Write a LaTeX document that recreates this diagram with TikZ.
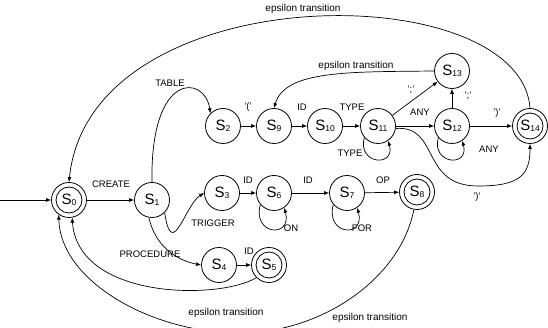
\documentclass[tikz,border=0pt]{standalone}
\usepackage{fontspec}
\setmainfont{Liberation Sans}
\usetikzlibrary{arrows.meta}
\newcommand{\sn}[1]{S{\fontsize{8.5}{8.5}\selectfont\raisebox{-1.5pt}{#1}}}
\begin{document}
\begin{tikzpicture}[x=1pt,y=-1pt,
  st/.style={circle,draw,line width=0.8pt,minimum size=35pt,inner sep=0pt,font=\fontsize{15}{15}\selectfont},
  acc/.style={st,path picture={\draw[line width=0.8pt] (path picture bounding box.center) circle (13pt);}},
  arr/.style={-{Latex[length=5pt,width=4pt]},line width=0.7pt},
  lbl/.style={font=\fontsize{9.5}{9.5}\selectfont,inner sep=1pt},
  eps/.style={font=\fontsize{10}{10}\selectfont,inner sep=1pt}]
\useasboundingbox (0,0) rectangle (548,328);
% states
\node[acc] (S0) at (69,200) {\sn{0}};
\node[st] (S1) at (152,200) {\sn{1}};
\node[st] (S2) at (223,126) {\sn{2}};
\node[st] (S9) at (274,126) {\sn{9}};
\node[st] (S10) at (325,126) {\sn{10}};
\node[st] (S11) at (378,126) {\sn{11}};
\node[st] (S12) at (452,126) {\sn{12}};
\node[st] (S13) at (452,71) {\sn{13}};
\node[acc] (S14) at (530,126) {\sn{14}};
\node[st] (S3) at (222,193) {\sn{3}};
\node[st] (S6) at (274,193) {\sn{6}};
\node[st] (S7) at (347,193) {\sn{7}};
\node[acc] (S8) at (417,192) {\sn{8}};
\node[st] (S4) at (219,265) {\sn{4}};
\node[acc] (S5) at (269,265) {\sn{5}};
% start
\coordinate (start) at (0,200);
\draw[arr] (start) -- (S0);
% straight edges
\draw[arr] (S0) -- (S1);
\draw[arr] (S2) -- (S9);
\draw[arr] (S9) -- (S10);
\draw[arr] (S10) -- (S11);
\draw[arr] (S11) -- (S12);
\draw[arr] (S12) -- (S14);
\draw[arr] (S11) -- (S13);
\draw[arr] (S12) -- (S13);
\draw[arr] (S3) -- (S6);
\draw[arr] (S6) -- (S7);
\draw[arr] (S7) -- (S8);
\draw[arr] (S4) -- (S5);
% curved edges
\draw[arr] (S1.north) .. controls (150,70) and (205,75) .. (S2.north west);
\draw[arr] (S1.-45) .. controls (172,262) and (185,205) .. (S3.west);
\draw[arr] (S1.-100) .. controls (155,245) and (175,260) .. (S4.west);
\draw[arr] (S11.-8) .. controls (440,125) and (420,186) .. (478,186) .. controls (520,186) and (530,175) .. (S14.south);
\draw[arr] (S13.west) .. controls (350,72) and (285,70) .. (S9.north);
\draw[arr] (S14.north) .. controls (520,-25) and (90,-25) .. (S0.north);
\draw[arr] (S5.-135) .. controls (220,300) and (78,300) .. (S0.-80);
\draw[arr] (S8.-100) .. controls (400,280) and (320,333) .. (240,333) .. controls (150,333) and (60,280) .. (S0.-125);
% loops
\draw[arr] (S6.-140) .. controls +(-105:32pt) and +(-75:32pt) .. (S6.-55);
\draw[arr] (S7.-140) .. controls +(-105:32pt) and +(-75:32pt) .. (S7.-55);
\draw[arr] (S11.-140) .. controls +(-105:28pt) and +(-75:28pt) .. (S11.-55);
\draw[arr] (S12.-140) .. controls +(-105:28pt) and +(-75:28pt) .. (S12.-55);
% labels
\node[lbl] (lcreate) at (111,184) {CREATE};
\node[lbl] (ltable) at (170,83) {TABLE};
\node[lbl] (lpar) at (248,107) {'('};
\node[lbl] (lid1) at (302,107) {ID};
\node[lbl] (ltype1) at (352,107) {TYPE};
\node[lbl] (ltype2) at (350,153) {TYPE};
\node[lbl] (lsemi1) at (411,90) {';'};
\node[lbl] (lany1) at (420,112) {ANY};
\node[lbl] (lsemi2) at (468,96) {';'};
\node[lbl] (lclose1) at (497,113) {')'};
\node[lbl] (lany2) at (489,149) {ANY};
\node[lbl] (lclose2) at (477,197) {')'};
\node[lbl] (lid2) at (248,180) {ID};
\node[lbl] (lid3) at (308,180) {ID};
\node[lbl] (lop) at (383,180) {OP};
\node[lbl] (lon) at (291,228) {ON};
\node[lbl] (lfor) at (362,228) {FOR};
\node[lbl] (ltrig) at (213,223) {TRIGGER};
\node[lbl] (lproc) at (150,254) {PROCEDURE};
\node[lbl] (lid4) at (249,251) {ID};
\node[eps] (e1) at (303,9) {epsilon transition};
\node[eps] (e2) at (356,66) {epsilon transition};
\node[eps] (e3) at (226,313) {epsilon transition};
\node[eps] (e4) at (370,318) {epsilon transition};
\end{tikzpicture}
\end{document}
